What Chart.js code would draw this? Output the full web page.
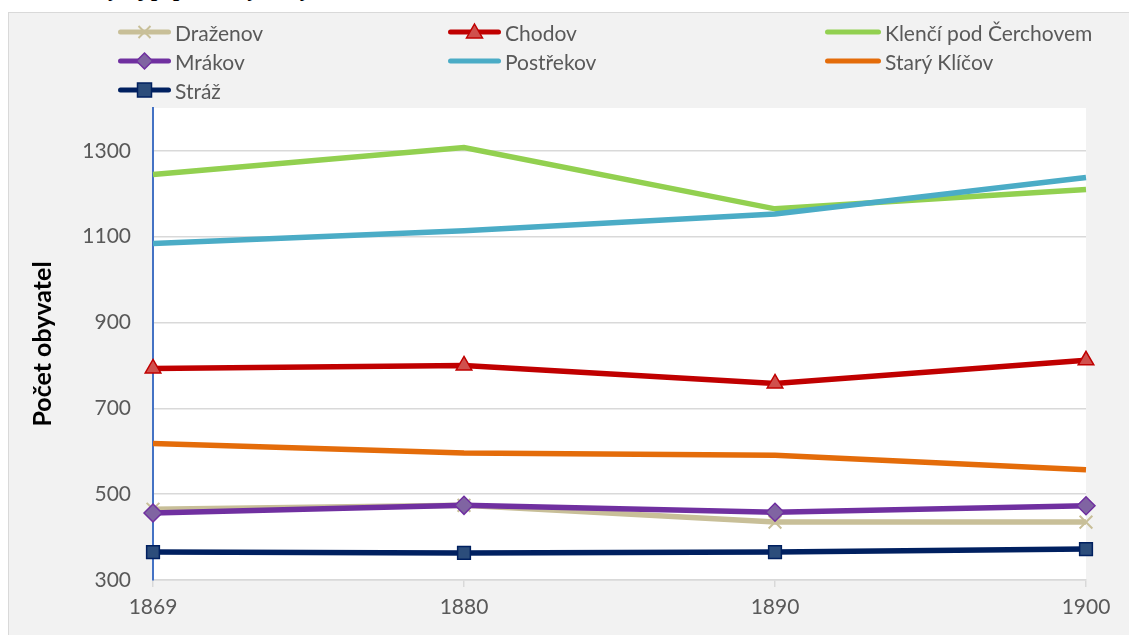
<!DOCTYPE html>
<html>
<head>
<meta charset="utf-8">
<script src="https://cdn.jsdelivr.net/npm/chart.js@4.4.0/dist/chart.umd.min.js"></script>
<style>
  html, body { margin: 0; padding: 0; background: #fff; }
  #wrap { position: relative; width: 1129px; height: 635px; overflow: hidden; }
  #frame { position: absolute; left: 8px; top: 12px; width: 1140px; height: 640px;
           background: #f2f2f2; border: 1px solid #d9d9d9; box-sizing: border-box; }
  #cut { position: absolute; left: 0; top: 0; width: 1129px; height: 12px; overflow: hidden; }
  #cut span { position: absolute; left: 96px; top: -24px; white-space: nowrap;
              font: italic bold 22px "Liberation Serif", serif; color: #000; }
  #myChart { position: absolute; left: 0; top: 0; }
  .leg { position: absolute; height: 24px; display: flex; align-items: center;
         font: 21px Lato, sans-serif; color: #595959; white-space: nowrap; }
  .leg svg { margin-right: 4px; }
</style>
</head>
<body>
<div id="wrap">
  <div id="frame"></div>
  <div id="cut"><span>Vývoj populace vybraných obcí Chodska v letech 1869–1900</span></div>
  <canvas id="myChart" width="1129" height="635"></canvas>
  <div id="legend"></div>
</div>
<script>
// data
const years = ['1869', '1880', '1890', '1900'];
const names = ['Draženov', 'Chodov', 'Klenčí pod Čerchovem', 'Mrákov', 'Postřekov', 'Starý Klíčov', 'Stráž'];
const drazenov = [465, 474, 435, 435];
const chodov = [793, 800, 758, 812];
const klenci = [1245, 1308, 1165, 1210];
const mrakov = [456, 474, 458, 473];
const postrekov = [1084, 1114, 1153, 1238];
const staryKlicov = [618, 596, 591, 557];
const straz = [365, 363, 365, 372];
const yTicks = [300, 500, 700, 900, 1100, 1300];

const seriesData = [drazenov, chodov, klenci, mrakov, postrekov, staryKlicov, straz];
const lineColors = ['#c8bf98', '#c00000', '#92d050', '#7030a0', '#4bacc6', '#e46c0a', '#002060'];
const markerStyles = ['crossRot', 'triangle', false, 'rectRot', false, false, 'rect'];
const markerFills = ['#c8bf98', '#d0504d', null, '#8064a2', null, null, '#2c4d7b'];
const markerBorders = ['#c8bf98', '#c00000', null, '#7030a0', null, null, '#002060'];

const datasets = [];
for (let i = 0; i < names.length; i++) {
  datasets.push({
    label: names[i],
    data: seriesData[i],
    borderColor: lineColors[i],
    borderWidth: 5.5,
    tension: 0,
    pointStyle: markerStyles[i],
    pointRadius: markerStyles[i] ? 9 : 0,
    pointBackgroundColor: markerFills[i],
    pointBorderColor: markerBorders[i],
    pointBorderWidth: markerStyles[i] == 'crossRot' ? 2 : 1.5,
    order: names.length - i  // later series on top, like Excel
  });
}

// white plot area
const plotBg = {
  id: 'plotBg',
  beforeDraw(chart) {
    const a = chart.chartArea, c = chart.ctx;
    c.save();
    c.fillStyle = '#ffffff';
    c.fillRect(a.left, a.top, a.right - a.left, a.bottom - a.top);
    c.restore();
  }
};

new Chart(document.getElementById('myChart'), {
  type: 'line',
  data: { labels: years, datasets: datasets },
  plugins: [plotBg],
  options: {
    responsive: false,
    animation: false,
    devicePixelRatio: 1,
    layout: { padding: { left: 8, top: 108, right: 43, bottom: 0 } },
    plugins: { legend: { display: false }, tooltip: { enabled: false } },
    scales: {
      x: {
        offset: false,
        grid: { display: true, drawOnChartArea: false, drawTicks: true, tickLength: 7, color: '#d9d9d9', lineWidth: 1.5 },
        border: { color: '#d9d9d9', width: 1.5 },
        ticks: { color: '#595959', font: { family: 'Lato', size: 21 }, padding: 8, maxRotation: 0 },
        afterFit(s) { s.height = 55; }
      },
      y: {
        min: 300,
        max: 1400,
        grid: { color: '#d9d9d9', lineWidth: 1.5, drawTicks: false },
        border: { color: '#4472c4', width: 2 },
        ticks: { color: '#595959', font: { family: 'Lato', size: 21 }, padding: 22,
                 callback: v => String(v) },
        afterBuildTicks(s) { s.ticks = yTicks.map(v => ({ value: v })); },
        title: { display: true, text: 'Počet obyvatel', color: '#000',
                 font: { family: 'Lato', size: 25, weight: 'bold' }, padding: { top: 20, bottom: 0 } },
        afterFit(s) { s.width = 145; }
      }
    }
  }
});

// legend in three columns, built from the same arrays
const legX = [118, 448, 825];
const legY = [20, 49, 78];
const legend = document.getElementById('legend');
names.forEach(function (n, i) {
  const col = i % 3, row = Math.floor(i / 3);
  const w = col == 2 ? 56 : 53;
  let mk = '';
  const cx = w / 2, cy = 12;
  if (markerStyles[i] == 'crossRot') {
    mk = `<path d="M${cx-6} ${cy-6} L${cx+6} ${cy+6} M${cx+6} ${cy-6} L${cx-6} ${cy+6}" stroke="${markerBorders[i]}" stroke-width="2"/>`;
  } else if (markerStyles[i] == 'triangle') {
    mk = `<path d="M${cx} ${cy-8} L${cx+8} ${cy+6} L${cx-8} ${cy+6} Z" fill="${markerFills[i]}" stroke="${markerBorders[i]}" stroke-width="1.5"/>`;
  } else if (markerStyles[i] == 'rectRot') {
    mk = `<path d="M${cx} ${cy-8} L${cx+8} ${cy} L${cx} ${cy+8} L${cx-8} ${cy} Z" fill="${markerFills[i]}" stroke="${markerBorders[i]}" stroke-width="1.5"/>`;
  } else if (markerStyles[i] == 'rect') {
    mk = `<rect x="${cx-7}" y="${cy-7}" width="14" height="14" fill="${markerFills[i]}" stroke="${markerBorders[i]}" stroke-width="1.5"/>`;
  }
  const el = document.createElement('div');
  el.className = 'leg';
  el.style.left = legX[col] + 'px';
  el.style.top = legY[row] + 'px';
  el.innerHTML = `<svg width="${w}" height="24"><line x1="2.5" y1="12" x2="${w-2.5}" y2="12" stroke="${lineColors[i]}" stroke-width="5" stroke-linecap="round"/>${mk}</svg>${n}`;
  legend.appendChild(el);
});
</script>
</body>
</html>
